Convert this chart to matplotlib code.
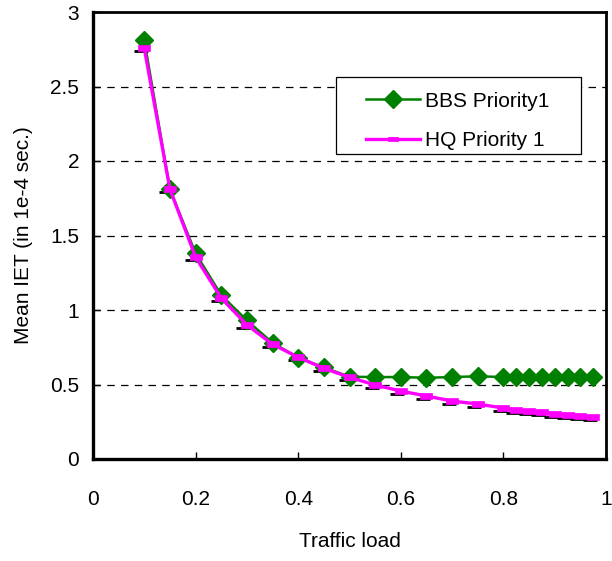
import matplotlib
matplotlib.use("Agg")
import matplotlib.pyplot as plt
import matplotlib.transforms as mtransforms
from matplotlib.patches import Rectangle

plt.rcParams['font.family'] = ['Liberation Sans', 'DejaVu Sans']

load = [0.1, 0.15, 0.2, 0.25, 0.3, 0.35, 0.4, 0.45, 0.5, 0.55, 0.6, 0.65,
        0.7, 0.75, 0.8, 0.825, 0.85, 0.875, 0.9, 0.925, 0.95, 0.975]
bbs = [2.81, 1.81, 1.38, 1.10, 0.93, 0.78, 0.68, 0.615, 0.552, 0.55, 0.55, 0.545,
       0.55, 0.555, 0.55, 0.55, 0.552, 0.55, 0.55, 0.55, 0.55, 0.55]
hq = [2.756, 1.81, 1.355, 1.08, 0.90, 0.77, 0.683, 0.609, 0.548, 0.497, 0.456, 0.423,
      0.389, 0.369, 0.342, 0.329, 0.322, 0.313, 0.304, 0.297, 0.289, 0.28]
xticks = [0, 0.2, 0.4, 0.6, 0.8, 1]
xticklabels = ['0', '0.2', '0.4', '0.6', '0.8', '1']
yticks = [0, 0.5, 1, 1.5, 2, 2.5, 3]
yticklabels = ['0', '0.5', '1', '1.5', '2', '2.5', '3']

FS = 15

fig = plt.figure(figsize=(6.12, 5.61), dpi=100)
ax = fig.add_axes([93/612, 102/561, 513/612, 447/561])

for yv in yticks[1:-1]:
    ax.axhline(yv, color='black', lw=0.9, ls=(0, (6, 5)), zorder=1)

rect = [(-1, -0.5), (1, -0.5), (1, 0.5), (-1, 0.5), (-1, -0.5)]

# black shadow dashes under HQ markers
off = mtransforms.ScaledTranslation(-3.5/100, -3/100, fig.dpi_scale_trans)
ax.plot(load, hq, ls='none', marker='_', ms=10, mew=2.0, color='black',
        transform=ax.transData + off, zorder=2)

ax.plot(load, bbs, color='#008000', lw=1.8, marker='D', ms=9,
        mfc='#008000', mec='#008000', label='BBS Priority1', zorder=3)
ax.plot(load, hq, color='#FF00FF', lw=2.4, marker=rect, ms=9,
        mfc='#FF00FF', mec='#FF00FF', mew=0.5, label='HQ Priority 1', zorder=4)

ax.set_xlim(0, 1)
ax.set_ylim(0, 3)
ax.set_xticks(xticks)
ax.set_xticklabels(xticklabels)
ax.set_yticks(yticks)
ax.set_yticklabels(yticklabels)
ax.tick_params(direction='in', length=5, width=1, labelsize=FS, pad=10)
ax.tick_params(axis='x', pad=22)
for s in ['left', 'bottom']:
    ax.spines[s].set_linewidth(2.4)
for s in ['top', 'right']:
    ax.spines[s].set_linewidth(2.0)

ax.set_xlabel('Traffic load', fontsize=FS, labelpad=17)
ax.set_ylabel('Mean IET (in 1e-4 sec.)', fontsize=FS, labelpad=12)

# legend frame
ax.add_patch(Rectangle((0.4737, 0.682), 0.4776, 0.173, transform=ax.transAxes,
                       facecolor='white', edgecolor='black', lw=0.9, zorder=5))
leg = ax.legend(loc='upper left', bbox_to_anchor=(0.532, 0.822), fontsize=FS,
                frameon=False, borderpad=0, labelspacing=0.98,
                handlelength=2.6, handletextpad=0.25, borderaxespad=0)
leg.set_zorder(6)
leg.legend_handles[1].set_markersize(7)

fig.savefig('out.png', dpi=100)
